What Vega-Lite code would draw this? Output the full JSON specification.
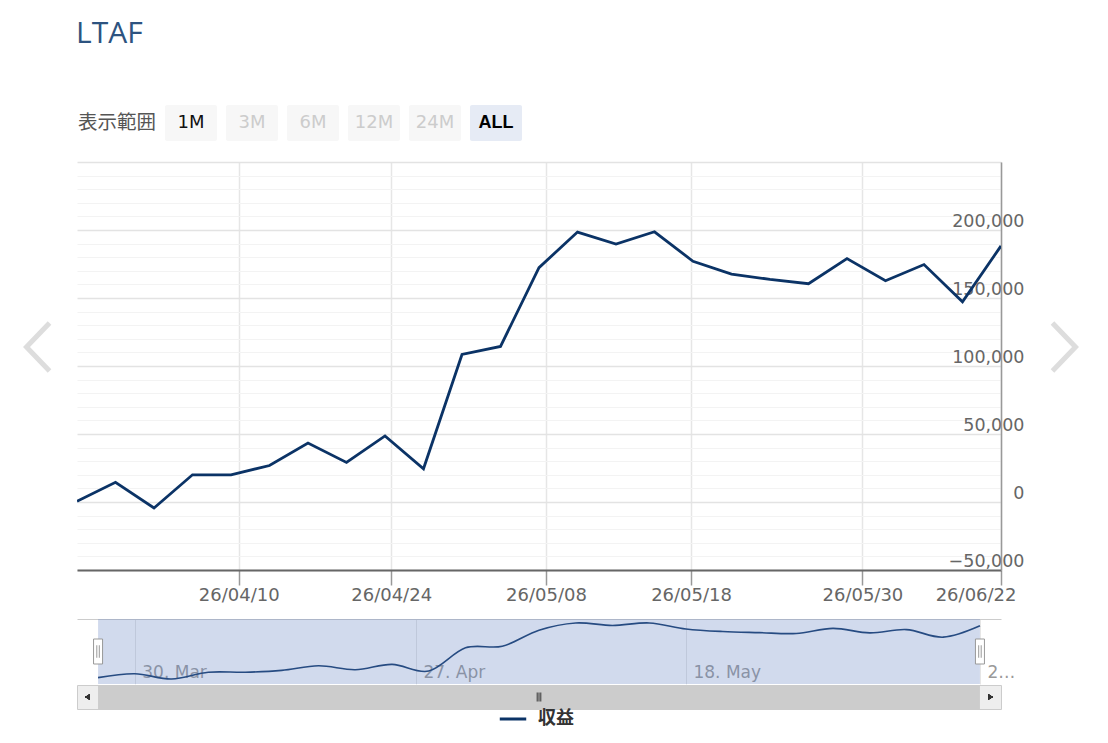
{
  "$schema": "https://vega.github.io/schema/vega-lite/v6.json",
  "padding": {"left": 0, "top": 19, "right": 0, "bottom": 0},
  "title": {
    "text": "LTAF",
    "anchor": "start",
    "dx": 76,
    "offset": 56,
    "font": "Open Sans",
    "fontSize": 30,
    "fontWeight": "normal",
    "color": "#2d5380"
  },
  "datasets": {
    "pl": [
      {"i": 0, "v": 500},
      {"i": 1, "v": 14500},
      {"i": 2, "v": -4400},
      {"i": 3, "v": 20000},
      {"i": 4, "v": 20000},
      {"i": 5, "v": 26800},
      {"i": 6, "v": 43400},
      {"i": 7, "v": 29100},
      {"i": 8, "v": 48600},
      {"i": 9, "v": 24400},
      {"i": 10, "v": 108500},
      {"i": 11, "v": 114400},
      {"i": 12, "v": 172300},
      {"i": 13, "v": 198500},
      {"i": 14, "v": 189600},
      {"i": 15, "v": 198700},
      {"i": 16, "v": 177000},
      {"i": 17, "v": 167600},
      {"i": 18, "v": 163700},
      {"i": 19, "v": 160500},
      {"i": 20, "v": 179000},
      {"i": 21, "v": 162700},
      {"i": 22, "v": 174600},
      {"i": 23, "v": 147200},
      {"i": 24, "v": 188300}
    ]
  },
  "spacing": 0,
  "hconcat": [
    {
      "width": 76,
      "height": 484,
      "data": {"values": [{"dir": "prev"}]},
      "mark": {
        "type": "point",
        "shape": "M 0.48 -1 L -0.48 0 L 0.48 1",
        "size": 2304,
        "filled": false,
        "stroke": "#dddddd",
        "strokeWidth": 5,
        "strokeCap": "butt",
        "opacity": 1
      }
    },
    {
      "spacing": 21,
      "vconcat": [
        {
          "width": {"step": 61},
          "height": 36,
          "data": {
            "values": [
              {"label": "表示範囲", "kind": "caption"},
              {"label": "1M", "kind": "enabled"},
              {"label": "3M", "kind": "disabled"},
              {"label": "6M", "kind": "disabled"},
              {"label": "12M", "kind": "disabled"},
              {"label": "24M", "kind": "disabled"},
              {"label": "ALL", "kind": "selected"}
            ]
          },
          "encoding": {
            "x": {
              "field": "label",
              "type": "nominal",
              "scale": {
                "domain": ["表示範囲", "1M", "3M", "6M", "12M", "24M", "ALL"],
                "paddingInner": 0.1475,
                "paddingOuter": 0.4426
              },
              "axis": null
            }
          },
          "layer": [
            {
              "transform": [{"filter": "datum.kind !== 'caption'"}],
              "mark": {"type": "rect", "cornerRadius": 2},
              "encoding": {
                "color": {
                  "condition": {"test": "datum.kind === 'selected'", "value": "#e6ebf5"},
                  "value": "#f7f7f7"
                }
              }
            },
            {
              "transform": [{"filter": "datum.kind === 'caption'"}],
              "mark": {"type": "text", "align": "right", "dx": 26, "font": "Noto Sans CJK JP", "fontSize": 19.5, "color": "#555555"},
              "encoding": {"text": {"field": "label"}}
            },
            {
              "transform": [{"filter": "datum.kind === 'enabled' || datum.kind === 'disabled'"}],
              "mark": {"type": "text", "font": "DejaVu Sans", "fontSize": 18},
              "encoding": {
                "text": {"field": "label"},
                "color": {
                  "condition": {"test": "datum.kind === 'disabled'", "value": "#cccccc"},
                  "value": "#111111"
                }
              }
            },
            {
              "transform": [{"filter": "datum.kind === 'selected'"}],
              "mark": {"type": "text", "font": "Liberation Sans", "fontSize": 18, "fontWeight": "bold", "color": "#000000"},
              "encoding": {"text": {"field": "label"}}
            }
          ]
        },
        {
          "spacing": 15,
          "resolve": {"scale": {"color": "independent"}, "legend": {"color": "independent"}},
          "vconcat": [
            {
              "width": 924,
              "height": 408,
              "data": {"name": "pl"},
              "mark": {"type": "line", "strokeWidth": 2.8, "color": "#0b3366", "clip": true},
              "encoding": {
                "x": {
                  "field": "i",
                  "type": "quantitative",
                  "scale": {"domain": [0, 24], "nice": false, "zero": false},
                  "axis": {
                    "title": null,
                    "values": [4.2, 8.16, 12.18, 15.95, 20.4, 24],
                    "labelExpr": "datum.value < 6 ? '26/04/10' : datum.value < 10 ? '26/04/24' : datum.value < 14 ? '26/05/08' : datum.value < 18 ? '26/05/18' : datum.value < 22 ? '26/05/30' : '26/06/22'",
                    "labelFont": "DejaVu Sans",
                    "labelFontSize": 18,
                    "labelColor": "#666666",
                    "labelPadding": 1,
                    "labelFlush": true,
                    "labelFlushOffset": 15,
                    "labelOverlap": false,
                    "tickSize": 15,
                    "tickColor": "#999999",
                    "tickWidth": 1.5,
                    "domainColor": "#666666",
                    "domainWidth": 2,
                    "grid": true,
                    "gridColor": "#e6e6e6",
                    "gridWidth": 1.5
                  }
                },
                "y": {
                  "field": "v",
                  "type": "quantitative",
                  "scale": {"domain": [-50000, 250000], "nice": false, "zero": false},
                  "axis": {
                    "title": null,
                    "orient": "right",
                    "values": [-50000, -40000, -30000, -20000, -10000, 0, 10000, 20000, 30000, 40000, 50000, 60000, 70000, 80000, 90000, 100000, 110000, 120000, 130000, 140000, 150000, 160000, 170000, 180000, 190000, 200000, 210000, 220000, 230000, 240000, 250000],
                    "format": ",d",
                    "labelExpr": "datum.value % 50000 === 0 && datum.value < 250000 ? datum.label : ''",
                    "labelFont": "DejaVu Sans",
                    "labelFontSize": {
                      "condition": {"test": "datum.value % 50000 === 0 && datum.value < 250000", "value": 17.5},
                      "value": 0
                    },
                    "labelOffset": {
                      "condition": {"test": "datum.value % 50000 === 0 && datum.value < 250000", "value": -4},
                      "value": 0
                    },
                    "labelColor": "#666666",
                    "labelAlign": "right",
                    "labelBaseline": "alphabetic",
                    "labelPadding": 23,
                    "labelOverlap": false,
                    "labelBound": false,
                    "ticks": false,
                    "domainColor": "#999999",
                    "domainWidth": 1.5,
                    "grid": true,
                    "gridColor": {
                      "condition": {"test": "datum.value % 50000 === 0", "value": "#e3e3e3"},
                      "value": "#f3f3f3"
                    },
                    "gridWidth": {
                      "condition": {"test": "datum.value % 50000 === 0", "value": 1.6},
                      "value": 1
                    }
                  }
                }
              }
            },
            {
              "spacing": 0,
              "vconcat": [
                {
                  "width": 924,
                  "height": 65,
                  "data": {"name": "pl"},
                  "encoding": {
                    "x": {
                      "field": "i",
                      "type": "quantitative",
                      "scale": {"domain": [-0.573, 24.573], "nice": false, "zero": false},
                      "axis": {
                        "title": null,
                        "orient": "top",
                        "values": [1, 8.65, 16, 24],
                        "labelExpr": "datum.value < 4 ? '30. Mar' : datum.value < 12 ? '27. Apr' : datum.value < 20 ? '18. May' : '2…'",
                        "labelFont": "DejaVu Sans",
                        "labelFontSize": 17,
                        "labelColor": "#999999",
                        "labelAlign": "left",
                        "labelBaseline": "alphabetic",
                        "labelPadding": -58,
                        "labelOffset": 7,
                        "labelOverlap": false,
                        "labelFlush": false,
                        "ticks": false,
                        "tickSize": 0,
                        "domainColor": "#cccccc",
                        "domainWidth": 1,
                        "grid": true,
                        "gridColor": "#e6e6e6",
                        "gridWidth": 1
                      }
                    }
                  },
                  "layer": [
                    {
                      "mark": {"type": "line", "interpolate": "cardinal", "strokeWidth": 1.6},
                      "encoding": {
                        "y": {
                          "field": "v",
                          "type": "quantitative",
                          "scale": {"domain": [-22500, 213000], "nice": false, "zero": false},
                          "axis": null
                        },
                        "color": {
                          "datum": "収益",
                          "type": "nominal",
                          "scale": {"range": ["#0b3366"]},
                          "legend": {
                            "orient": "bottom",
                            "title": null,
                            "offset": -6,
                            "symbolType": "stroke",
                            "symbolStrokeWidth": 3,
                            "symbolSize": 700,
                            "symbolOffset": -19,
                            "labelFont": "Noto Sans CJK JP",
                            "labelFontSize": 18,
                            "labelFontWeight": "bold",
                            "labelColor": "#333333",
                            "labelOffset": 10
                          }
                        }
                      }
                    },
                    {
                      "transform": [{"aggregate": [{"op": "min", "field": "i", "as": "i"}, {"op": "max", "field": "i", "as": "hi"}]}],
                      "mark": {"type": "rect", "color": "#6685c2", "opacity": 0.3},
                      "encoding": {"x2": {"field": "hi"}}
                    },
                    {
                      "transform": [
                        {"aggregate": [{"op": "min", "field": "i", "as": "lo"}, {"op": "max", "field": "i", "as": "hi"}]},
                        {"fold": ["lo", "hi"], "as": ["edge", "i"]}
                      ],
                      "mark": {
                        "type": "point",
                        "shape": "M -0.36 -1 H 0.36 V 1 H -0.36 Z M -0.1 -0.5 V 0.5 M 0.1 -0.5 V 0.5",
                        "size": 625,
                        "filled": true,
                        "fill": "#ffffff",
                        "stroke": "#999999",
                        "strokeWidth": 1,
                        "opacity": 1
                      }
                    }
                  ]
                },
                {
                  "width": 924,
                  "height": 24,
                  "view": {"fill": "#eeeeee", "stroke": "#cccccc"},
                  "data": {"name": "pl"},
                  "layer": [
                    {
                      "transform": [{"aggregate": [{"op": "min", "field": "i", "as": "lo"}, {"op": "max", "field": "i", "as": "hi"}]}],
                      "mark": {"type": "rect", "color": "#cccccc"},
                      "encoding": {
                        "x": {
                          "field": "lo",
                          "type": "quantitative",
                          "scale": {"domain": [-0.573, 24.573], "nice": false, "zero": false},
                          "axis": null
                        },
                        "x2": {"field": "hi"}
                      }
                    },
                    {
                      "mark": {"type": "point", "shape": "triangle-left", "size": 30, "filled": true, "color": "#333333", "opacity": 1},
                      "encoding": {"x": {"datum": -0.287, "type": "quantitative"}}
                    },
                    {
                      "mark": {"type": "point", "shape": "triangle-right", "size": 30, "filled": true, "color": "#333333", "opacity": 1},
                      "encoding": {"x": {"datum": 24.287, "type": "quantitative"}}
                    },
                    {
                      "transform": [{"aggregate": [{"op": "count", "as": "n"}]}],
                      "mark": {
                        "type": "point",
                        "shape": "M -0.4 -1 V 1 M 0 -1 V 1 M 0.4 -1 V 1",
                        "size": 81,
                        "filled": false,
                        "stroke": "#333333",
                        "strokeWidth": 1,
                        "opacity": 1
                      }
                    }
                  ]
                }
              ]
            }
          ]
        }
      ]
    },
    {
      "width": 80,
      "height": 484,
      "data": {"values": [{"dir": "next"}]},
      "mark": {
        "type": "point",
        "shape": "M -0.48 -1 L 0.48 0 L -0.48 1",
        "size": 2304,
        "filled": false,
        "stroke": "#dddddd",
        "strokeWidth": 5,
        "strokeCap": "butt",
        "opacity": 1
      }
    }
  ],
  "config": {
    "view": {"stroke": null},
    "legend": {"layout": {"bottom": {"anchor": "middle"}}}
  }
}
